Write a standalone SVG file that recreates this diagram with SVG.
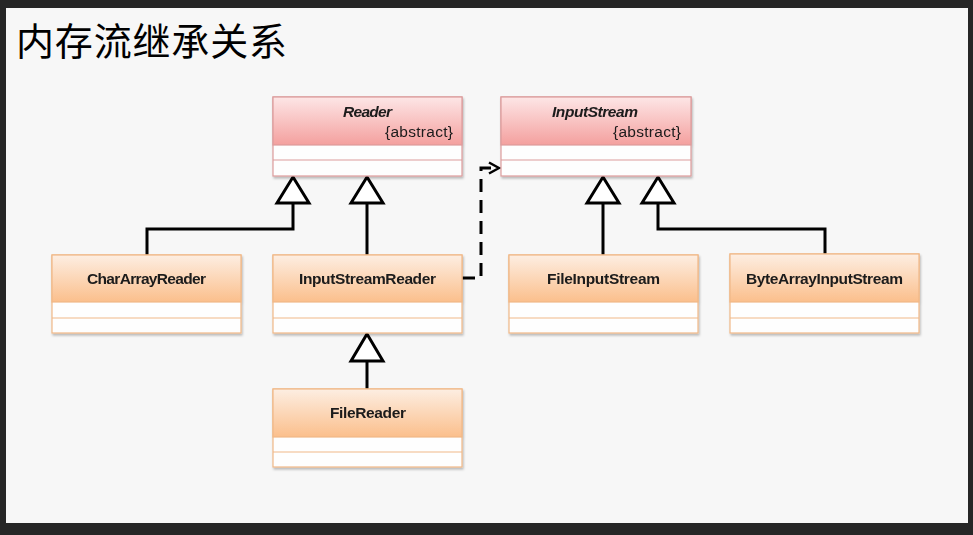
<svg xmlns="http://www.w3.org/2000/svg" width="973" height="535" viewBox="0 0 973 535">
<defs>
<linearGradient id="gOr" x1="0" y1="0" x2="0" y2="1">
<stop offset="0" stop-color="#fdeee2"/>
<stop offset="1" stop-color="#fbbf8c"/>
</linearGradient>
<linearGradient id="gRd" x1="0" y1="0" x2="0" y2="1">
<stop offset="0" stop-color="#fde6e6"/>
<stop offset="1" stop-color="#f4a09e"/>
</linearGradient>
<filter id="sh" x="-5%" y="-5%" width="115%" height="125%">
<feDropShadow dx="1" dy="2" stdDeviation="1.2" flood-color="#000" flood-opacity="0.25"/>
</filter>
<marker id="open" markerWidth="14" markerHeight="14" refX="12" refY="7" orient="auto" markerUnits="userSpaceOnUse">
<path d="M2,1.5 L12,7 L2,12.5" fill="none" stroke="#000" stroke-width="2.5"/>
</marker>
</defs>
<style>
.fr{fill:#262626}
.bg{fill:#f7f7f7}
.body{fill:#fefefe}
.or{stroke:#f0b887;stroke-width:1.2}
.rd{stroke:#dc9c9c;stroke-width:1.2}
.lbl{font-family:"Liberation Sans",Arial,sans-serif;font-weight:bold;font-size:15.5px;fill:#1a1a1a;text-anchor:middle}
.abs{font-family:"Liberation Sans",Arial,sans-serif;font-style:italic;font-weight:bold;font-size:15.5px;fill:#1a1a1a;text-anchor:middle}
.ab{font-family:"Liberation Sans",Arial,sans-serif;font-size:15.5px;fill:#1a1a1a;text-anchor:end}
.ln{fill:none;stroke:#000;stroke-width:3}
.tri{fill:#fff;stroke:#000;stroke-width:3;stroke-linejoin:miter}
.title{font-family:"Noto Sans CJK SC","Noto Sans",sans-serif;font-size:38px;font-weight:400;fill:#000}
</style>
<rect class="fr" x="0" y="0" width="973" height="535"/>
<rect class="bg" x="6" y="8" width="962" height="515"/>
<text class="title" x="16" y="55" textLength="271">内存流继承关系</text>

<g id="connectors">
<path class="ln" d="M147,255 V229 H293 V203"/>
<path class="ln" d="M367,255 V203"/>
<path class="ln" d="M367,389 V361"/>
<path class="ln" d="M603,255 V203"/>
<path class="ln" d="M825,254 V229 H658 V203"/>
<path class="tri" d="M293,177 L309,203 L277,203 Z"/>
<path class="tri" d="M367,177 L383,203 L351,203 Z"/>
<path class="tri" d="M367,334 L383,361 L351,361 Z"/>
<path class="tri" d="M603,177 L619,203 L587,203 Z"/>
<path class="tri" d="M658,177 L674,203 L642,203 Z"/>
<path d="M462,278 H481 V168 H499" fill="none" stroke="#000" stroke-width="3" stroke-dasharray="13,8" marker-end="url(#open)"/>
</g>

<g id="Reader" filter="url(#sh)">
<rect class="body rd" x="273" y="97" width="189" height="79"/>
<rect class="rd" x="273" y="97" width="189" height="48" fill="url(#gRd)"/>
<line class="rd" x1="273" y1="160" x2="462" y2="160"/>
<text class="abs" x="367.5" y="117" textLength="49">Reader</text>
<text class="ab" x="453" y="137" textLength="68">{abstract}</text>
</g>

<g id="InputStream" filter="url(#sh)">
<rect class="body rd" x="501" y="97" width="190" height="79"/>
<rect class="rd" x="501" y="97" width="190" height="48" fill="url(#gRd)"/>
<line class="rd" x1="501" y1="160" x2="691" y2="160"/>
<text class="abs" x="595" y="117" textLength="86">InputStream</text>
<text class="ab" x="681" y="137" textLength="68">{abstract}</text>
</g>

<g id="CharArrayReader" filter="url(#sh)">
<rect class="body or" x="52" y="255" width="189" height="78"/>
<rect class="or" x="52" y="255" width="189" height="47" fill="url(#gOr)"/>
<line class="or" x1="52" y1="318" x2="241" y2="318"/>
<text class="lbl" x="146.5" y="284" textLength="119">CharArrayReader</text>
</g>

<g id="InputStreamReader" filter="url(#sh)">
<rect class="body or" x="273" y="255" width="189" height="78"/>
<rect class="or" x="273" y="255" width="189" height="47" fill="url(#gOr)"/>
<line class="or" x1="273" y1="318" x2="462" y2="318"/>
<text class="lbl" x="367.5" y="284" textLength="137">InputStreamReader</text>
</g>

<g id="FileReader" filter="url(#sh)">
<rect class="body or" x="273" y="389" width="189" height="78"/>
<rect class="or" x="273" y="389" width="189" height="48" fill="url(#gOr)"/>
<line class="or" x1="273" y1="452" x2="462" y2="452"/>
<text class="lbl" x="368" y="418" textLength="76">FileReader</text>
</g>

<g id="FileInputStream" filter="url(#sh)">
<rect class="body or" x="509" y="255" width="189" height="78"/>
<rect class="or" x="509" y="255" width="189" height="47" fill="url(#gOr)"/>
<line class="or" x1="509" y1="318" x2="698" y2="318"/>
<text class="lbl" x="603.5" y="284" textLength="113">FileInputStream</text>
</g>

<g id="ByteArrayInputStream" filter="url(#sh)">
<rect class="body or" x="730" y="254" width="189" height="79"/>
<rect class="or" x="730" y="254" width="189" height="48" fill="url(#gOr)"/>
<line class="or" x1="730" y1="318" x2="919" y2="318"/>
<text class="lbl" x="824.5" y="284" textLength="157">ByteArrayInputStream</text>
</g>
</svg>
